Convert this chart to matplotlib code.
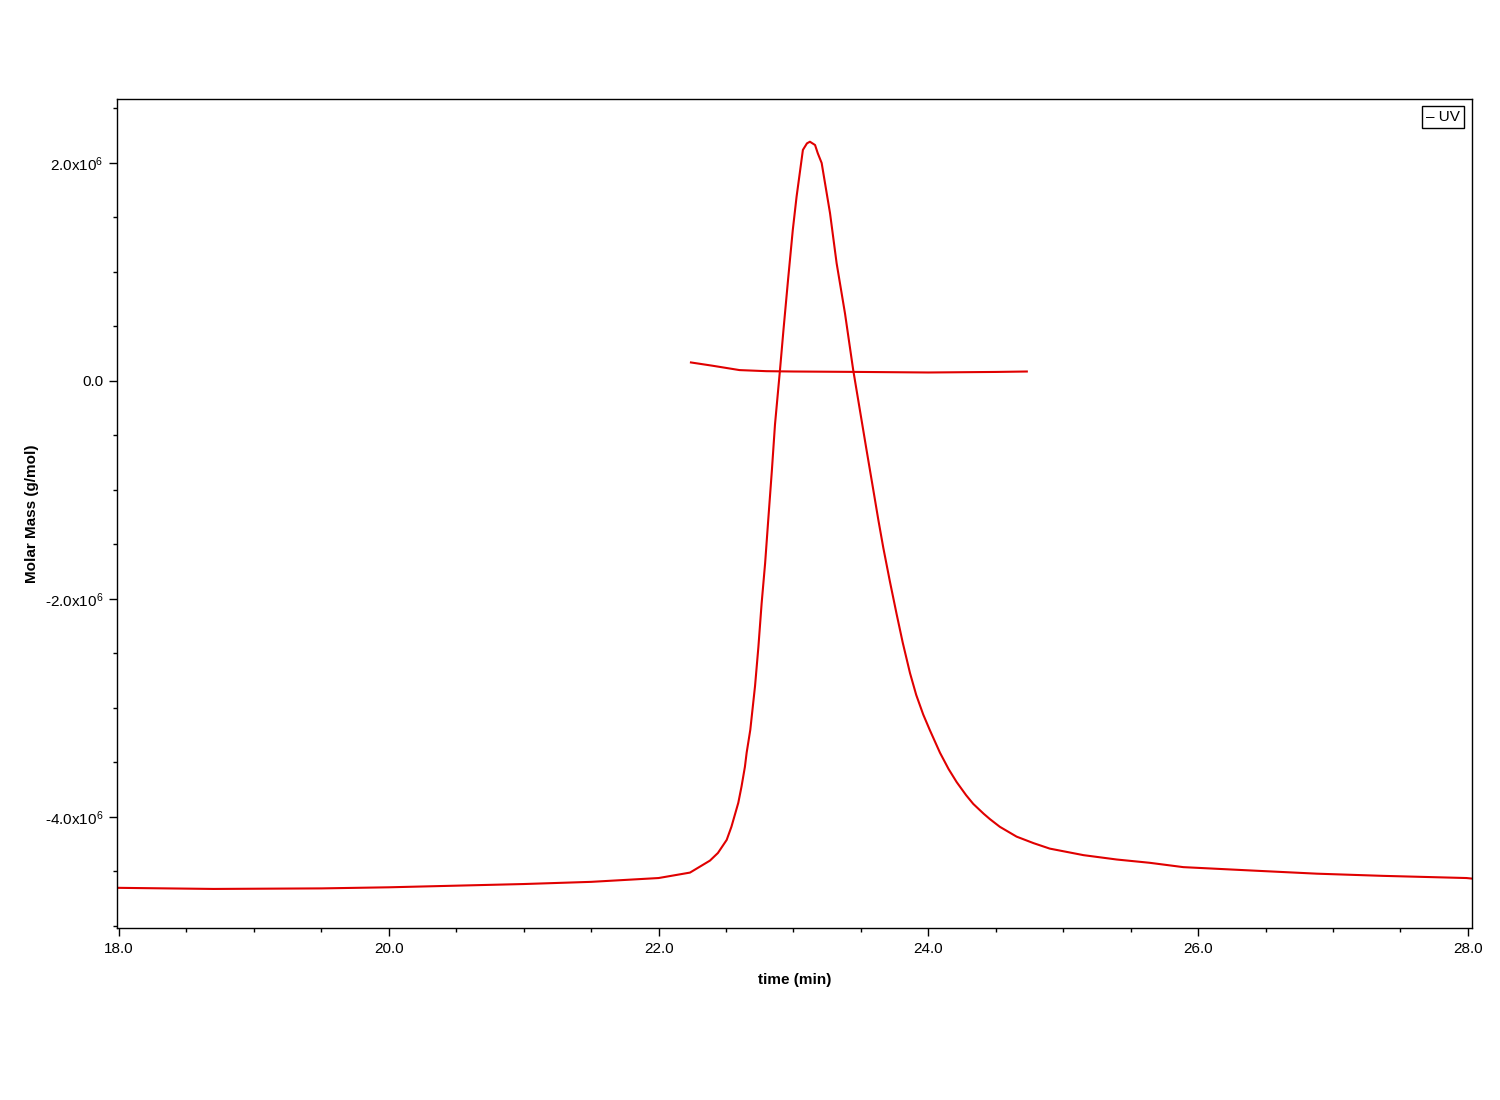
import numpy as np
import matplotlib
matplotlib.use("Agg")
import matplotlib.pyplot as plt
from matplotlib.ticker import MultipleLocator, FuncFormatter

plt.rcParams['font.family'] = ['Liberation Sans', 'DejaVu Sans']
plt.rcParams['mathtext.default'] = 'regular'

# UV trace (time in min, value in units of 1e6 on the g/mol axis)
uv_time = [18.0, 18.7, 19.5, 20.0, 20.5, 21.0, 21.5, 22.0, 22.233, 22.381, 22.44,
           22.505, 22.54, 22.591, 22.615, 22.64, 22.653, 22.68, 22.715, 22.74,
           22.764, 22.79, 22.813, 22.84, 22.863, 22.9, 22.926, 22.96, 22.995,
           23.023, 23.07, 23.10, 23.122, 23.16, 23.18, 23.209, 23.271, 23.32,
           23.382, 23.443, 23.505, 23.54, 23.592, 23.63, 23.666, 23.715, 23.765,
           23.81, 23.864, 23.91, 23.962, 24.01, 24.086, 24.15, 24.21, 24.28,
           24.333, 24.41, 24.457, 24.53, 24.654, 24.78, 24.90, 25.15, 25.396,
           25.64, 25.89, 26.38, 26.88, 27.37, 27.99, 28.03]
uv_value = [-4.65, -4.66, -4.655, -4.645, -4.63, -4.615, -4.595, -4.56, -4.51, -4.40, -4.33,
            -4.21, -4.09, -3.87, -3.72, -3.54, -3.41, -3.20, -2.80, -2.44,
            -2.04, -1.67, -1.275, -0.82, -0.40, 0.10, 0.47, 0.93, 1.385,
            1.69, 2.12, 2.18, 2.195, 2.165, 2.09, 2.0, 1.54, 1.08,
            0.62, 0.10, -0.36, -0.62, -1.0, -1.28, -1.53, -1.84, -2.14,
            -2.40, -2.68, -2.88, -3.06, -3.20, -3.41, -3.56, -3.68, -3.80,
            -3.88, -3.97, -4.02, -4.09, -4.18, -4.24, -4.29, -4.35, -4.39,
            -4.42, -4.46, -4.49, -4.52, -4.54, -4.56, -4.565]

# molar mass trace
mm_time = [22.24, 22.4, 22.6, 22.8, 23.0, 23.5, 24.0, 24.5, 24.73]
mm_value = [0.17, 0.14, 0.10, 0.09, 0.087, 0.083, 0.078, 0.083, 0.087]

red = '#e00000'

fig = plt.figure(figsize=(15, 11), dpi=100)
ax = fig.add_axes([0.078, 0.1564, 0.9033, 0.7536])

ax.plot(uv_time, np.array(uv_value) * 1e6, color=red, lw=1.5)
ax.plot(mm_time, np.array(mm_value) * 1e6, color=red, lw=1.5)

ax.set_xlim(17.985, 28.03)
ax.set_ylim(-5.018e6, 2.587e6)

ax.xaxis.set_major_locator(MultipleLocator(2.0))
ax.xaxis.set_minor_locator(MultipleLocator(0.5))
ax.yaxis.set_major_locator(MultipleLocator(2e6))
ax.yaxis.set_minor_locator(MultipleLocator(0.5e6))

ax.xaxis.set_major_formatter(FuncFormatter(lambda v, p: f"{v:.1f}"))

def yfmt(v, p):
    if abs(v) < 1:
        return "0.0"
    return f"{v/1e6:.1f}x10$^{{6}}$"

ax.yaxis.set_major_formatter(FuncFormatter(yfmt))

ax.tick_params(which='major', direction='out', length=6, width=1, labelsize=11, pad=4)
ax.tick_params(which='minor', direction='out', length=3, width=1)
for s in ax.spines.values():
    s.set_linewidth(1)

ax.set_xlabel("time (min)", fontsize=11, fontweight='bold', labelpad=12)
ax.set_ylabel("Molar Mass (g/mol)", fontsize=11, fontweight='bold', labelpad=4)

ax.text(0.991, 0.987, "– UV", transform=ax.transAxes, ha='right', va='top', fontsize=11,
        bbox=dict(boxstyle='square,pad=0.25', fc='white', ec='black', lw=1))

fig.savefig("out.png", dpi=100)
